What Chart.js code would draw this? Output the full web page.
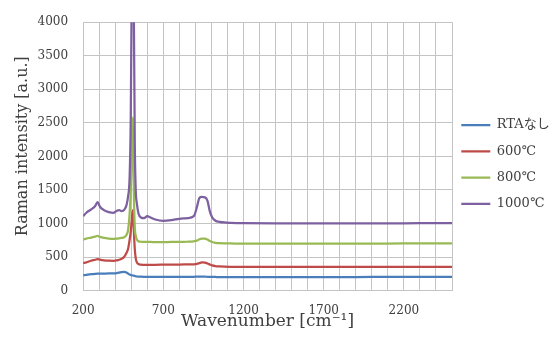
<!DOCTYPE html>
<html>
<head>
<meta charset="utf-8">
<script src="https://cdn.jsdelivr.net/npm/chart.js@4/dist/chart.umd.min.js"></script>
<style>
html,body{margin:0;padding:0;background:#fff;}
canvas{display:block;}
</style>
</head>
<body>
<canvas id="c" width="558" height="338"></canvas>
<script>
const seriesNames = ["RTAなし", "600℃", "800℃", "1000℃"];
const wavenumber = [200, 220, 250, 275, 290, 305, 330, 360, 390, 410, 425, 440, 455, 470, 480, 490, 497, 503, 510, 516, 522, 528, 535, 545, 560, 580, 600, 620, 650, 700, 750, 800, 850, 890, 910, 925, 940, 960, 975, 990, 1005, 1025, 1050, 1080, 1120, 1200, 1400, 1600, 1800, 2000, 2200, 2400, 2500];
const rtaNone = [228, 235, 245, 250, 252, 253, 254, 255, 258, 262, 268, 275, 278, 270, 255, 240, 232, 228, 225, 222, 218, 214, 210, 208, 207, 206, 205, 205, 205, 205, 206, 206, 206, 206, 207, 207, 207, 207, 206, 205, 204, 203, 202, 202, 202, 202, 202, 202, 202, 203, 203, 204, 204];
const t600 = [410, 420, 445, 460, 470, 462, 452, 445, 443, 450, 460, 475, 500, 560, 620, 760, 880, 1050, 1200, 900, 620, 480, 420, 395, 388, 385, 385, 385, 385, 386, 387, 388, 390, 392, 398, 410, 420, 418, 405, 390, 375, 365, 360, 357, 355, 353, 352, 352, 352, 352, 352, 353, 353];
const t800 = [760, 775, 790, 805, 815, 800, 785, 775, 770, 775, 780, 785, 795, 830, 900, 1150, 1500, 2100, 2580, 1500, 950, 820, 760, 735, 728, 725, 725, 725, 722, 722, 725, 725, 728, 735, 745, 765, 775, 775, 760, 740, 725, 712, 706, 703, 702, 700, 700, 700, 700, 701, 702, 703, 703];
const t1000 = [1110, 1160, 1210, 1260, 1320, 1250, 1200, 1170, 1160, 1190, 1200, 1185, 1200, 1270, 1400, 1700, 2600, 4500, 7500, 4200, 2200, 1500, 1300, 1150, 1090, 1080, 1110, 1090, 1060, 1040, 1050, 1070, 1080, 1110, 1250, 1380, 1395, 1390, 1340, 1180, 1090, 1040, 1025, 1015, 1010, 1005, 1003, 1003, 1002, 1003, 1003, 1005, 1005];
const seriesValues = [rtaNone, t600, t800, t1000];
const colors = ["#4a7ebb", "#be4b48", "#98b954", "#7d60a0"];
const xTickLabels = [200, 700, 1200, 1700, 2200];
const yTicks = [0, 500, 1000, 1500, 2000, 2500, 3000, 3500, 4000];

const serif = "'DejaVu Serif', 'Noto Sans CJK JP', serif";
const textColor = "#404040";
const gridColor = "#c4c4c4";

const datasets = seriesValues.map((vals, i) => ({
  label: seriesNames[i],
  data: wavenumber.map((w, j) => ({x: w, y: vals[j]})),
  borderColor: colors[i],
  backgroundColor: colors[i],
  borderWidth: 2.25,
  pointRadius: 0,
  pointStyle: 'line',
  cubicInterpolationMode: 'monotone',
  order: 4 - i
}));

// place the legend block where the reference has it
const legendPlace = {
  id: 'legendPlace',
  afterLayout(chart) {
    const lg = chart.legend;
    if (!lg) return;
    lg.left = 448;
    lg.top = 105.2;
  }
};

new Chart(document.getElementById('c'), {
  type: 'line',
  data: {datasets},
  plugins: [legendPlace],
  options: {
    responsive: false,
    animation: false,
    layout: {padding: {left: 9.4, top: 6, right: 0, bottom: 0}},
    plugins: {
      legend: {
        position: 'right',
        align: 'start',
        maxWidth: 106,
        labels: {
          usePointStyle: true,
          pointStyle: 'line',
          pointStyleWidth: 29,
          boxHeight: 13,
          padding: 13.3,
          color: textColor,
          font: {family: serif, size: 13},
          sort: (a, b) => a.datasetIndex - b.datasetIndex
        }
      },
      tooltip: {enabled: false}
    },
    scales: {
      x: {
        type: 'linear',
        min: 200,
        max: 2500,
        ticks: {
          stepSize: 100,
          autoSkip: false,
          maxRotation: 0,
          padding: 13.3,
          color: textColor,
          font: {family: serif, size: 12},
          callback: (v) => xTickLabels.includes(v) ? String(v) : ''
        },
        grid: {color: gridColor, drawTicks: false},
        border: {color: gridColor},
        title: {display: true, text: 'Wavenumber [cm⁻¹]', color: textColor, font: {family: serif, size: 17}, padding: {top: -20, bottom: 6}}
      },
      y: {
        min: 0,
        max: 4000,
        afterBuildTicks: (axis) => { axis.ticks = yTicks.map(v => ({value: v})); },
        ticks: {
          padding: 15,
          color: textColor,
          font: {family: serif, size: 12},
          callback: (v) => String(v)
        },
        grid: {color: gridColor, drawTicks: false},
        border: {color: gridColor},
        title: {display: true, text: '    Raman intensity [a.u.]', color: textColor, font: {family: serif, size: 16}, padding: {top: 4, bottom: -10}}
      }
    }
  }
});
</script>
</body>
</html>
